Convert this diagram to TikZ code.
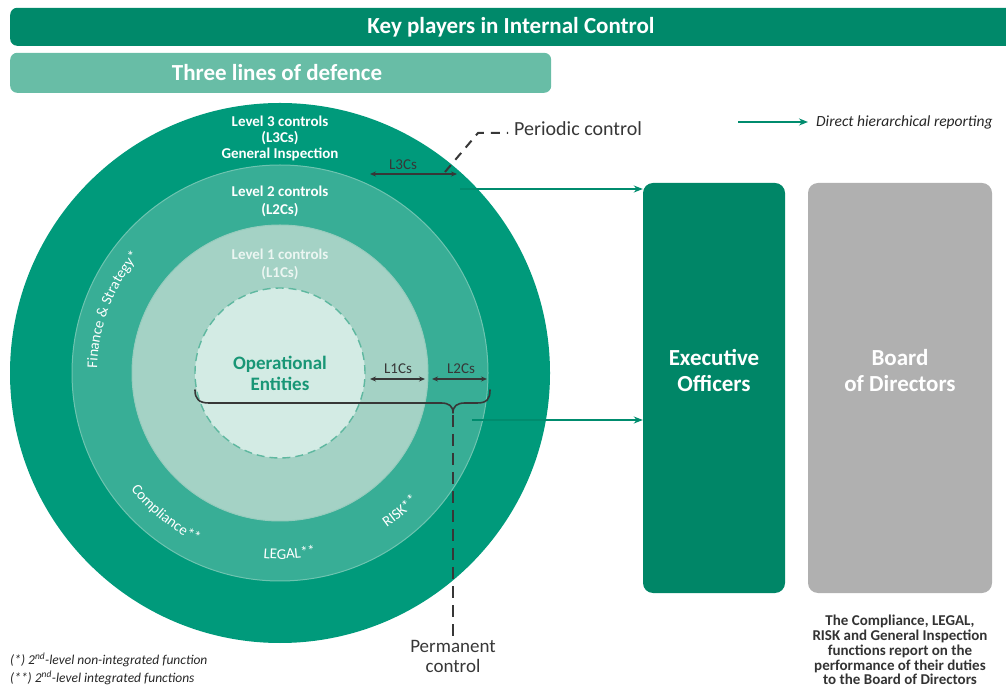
\documentclass[tikz,border=0pt]{standalone}
\usepackage{fontspec}
\setmainfont{Carlito}
\usetikzlibrary{arrows.meta,decorations.text}
\definecolor{hdr}{RGB}{0,137,106}
\definecolor{subhdr}{RGB}{104,189,166}
\definecolor{ringA}{RGB}{0,154,123}
\definecolor{ringB}{RGB}{56,174,150}
\definecolor{ringBline}{RGB}{110,196,176}
\definecolor{ringC}{RGB}{164,210,197}
\definecolor{ringCline}{RGB}{150,204,189}
\definecolor{ringD}{RGB}{211,235,228}
\definecolor{dashc}{RGB}{95,184,160}
\definecolor{optext}{RGB}{24,150,118}
\definecolor{lvlone}{RGB}{236,246,242}
\definecolor{execc}{RGB}{0,134,103}
\definecolor{boardc}{RGB}{176,176,176}
\definecolor{ink}{RGB}{55,55,55}
\definecolor{garr}{RGB}{0,140,110}
\begin{document}
\begin{tikzpicture}[x=1pt,y=1pt,
  barbox/.style={rounded corners=7pt, inner sep=0pt, anchor=south west},
  bartext/.style={text=white, font=\fontsize{23}{23}\selectfont\bfseries},
  ringnode/.style={circle, inner sep=0pt},
  lvltxt/.style={text=white, align=center, inner sep=0pt},
  optxt/.style={text=optext, align=center, inner sep=0pt, font=\fontsize{19}{21}\selectfont\bfseries},
  dimlbl/.style={text=ink, inner sep=0pt, font=\fontsize{15}{15}\selectfont},
  dimarrow/.style={draw=ink, line width=1.2pt, {Stealth[length=6pt,width=5pt]}-{Stealth[length=6pt,width=5pt]}},
  garrow/.style={draw=garr, line width=1.8pt, -{Stealth[length=9pt,width=7pt]}},
  dashline/.style={draw=ink, line width=2pt, dash pattern=on 9pt off 7pt},
  vdash/.style={draw=ink, line width=2.8pt, dash pattern=on 12pt off 7pt},
  bigbox/.style={rounded corners=10pt, inner sep=0pt},
  boxtxt/.style={text=white, align=center, inner sep=0pt, font=\fontsize{23}{26}\selectfont\bfseries},
  inktxt/.style={text=ink, align=center, inner sep=0pt},
  curved/.style={decorate, decoration={text along path, text align=center, text color=white, text={#1}}}
]
\useasboundingbox (0,0) rectangle (1006,688);

% header bars
\node[barbox, fill=hdr, minimum width=1010pt, minimum height=38pt] (titlebar) at (10,642) {};
\node[bartext] (titletext) at (511,661) {Key players in Internal Control};
\node[barbox, fill=subhdr, minimum width=541pt, minimum height=40pt] (subbar) at (10,595) {};
\node[bartext] (subtext) at (277,615) {Three lines of defence};

% circles
\coordinate (C) at (280,315);
\node[ringnode, fill=ringA, minimum size=540pt] (L3) at (C) {};
\node[ringnode, fill=ringB, draw=ringBline, line width=1pt, minimum size=416pt] (L2) at (C) {};
\node[ringnode, fill=ringC, draw=ringCline, line width=1pt, minimum size=296pt] (L1) at (C) {};
\node[ringnode, fill=ringD, draw=dashc, line width=1.4pt, dash pattern=on 8pt off 5pt, minimum size=170pt] (OE) at (C) {};

% level texts
\node[lvltxt, font=\fontsize{15}{16}\selectfont\bfseries] (t3) at (280,550) {Level 3 controls\\(L3Cs)\\General Inspection};
\node[lvltxt, font=\fontsize{15}{18}\selectfont\bfseries] (t2) at (280,487) {Level 2 controls\\(L2Cs)};
\node[lvltxt, text=lvlone, font=\fontsize{15}{18}\selectfont\bfseries] (t1) at (280,424) {Level 1 controls\\(L1Cs)};
\node[optxt] (op) at (280,315) {Operational\\Entities};

% curved labels in the level 2 ring
\begin{scope}[shift={(280,315)}]
\path[curved={|\fontsize{15}{15}\selectfont|Finance {\&} Strategy*}] (189.4:183pt) arc[start angle=189.4, end angle=129.4, radius=183pt];
\path[curved={|\fontsize{15}{15}\selectfont|Compliance**}] (211:189pt) arc[start angle=211, end angle=251, radius=189pt];
\path[curved={|\fontsize{15}{15}\selectfont|LEGAL**}] (253:186pt) arc[start angle=253, end angle=293, radius=186pt];
\path[curved={|\fontsize{15}{15}\selectfont|RISK**}] (291:188pt) arc[start angle=291, end angle=331, radius=188pt];
\end{scope}

% dimension arrows
\coordinate (a3l) at (370,514); \coordinate (a3r) at (457,514);
\draw[dimarrow] (a3l) -- (a3r);
\node[dimlbl] (l3lbl) at (403,523) {L3Cs};
\coordinate (a1l) at (370,309); \coordinate (a1r) at (425,309);
\draw[dimarrow] (a1l) -- (a1r);
\node[dimlbl] (l1lbl) at (398,319) {L1Cs};
\coordinate (a2l) at (432,309); \coordinate (a2r) at (487,309);
\draw[dimarrow] (a2l) -- (a2r);
\node[dimlbl] (l2lbl) at (461,319) {L2Cs};

% periodic control
\coordinate (p0) at (445,516); \coordinate (p1) at (478,555); \coordinate (p2) at (508,555);
\draw[dashline] (p0) -- (p1) -- (p2);
\node[inktxt, anchor=west, font=\fontsize{20}{20}\selectfont] (pc) at (514,559) {Periodic control};

% brace and permanent control
\coordinate (bl) at (195,298); \coordinate (btip) at (453,275); \coordinate (br) at (490,298);
\draw[ink, line width=1.6pt, line cap=round, line join=round]
  (bl) .. controls (195,289) and (199,285) .. (209,285) -- (441,285)
  .. controls (449,285) and (453,282) .. (btip)
  .. controls (453,282) and (457,285) .. (465,285) -- (477,285)
  .. controls (487,285) and (490,289) .. (br);
\node[inktxt, font=\fontsize{19}{20}\selectfont] (perm) at (453,32) {Permanent\\control};
\draw[vdash] (btip) ++(0,-2) coordinate (vtop) (vtop) -- (perm.north);

% boxes
\node[bigbox, fill=execc, minimum width=142pt, minimum height=410pt] (exec) at (714,300) {};
\node[boxtxt] (exectext) at (714,317) {Executive\\Officers};
\node[bigbox, fill=boardc, minimum width=184pt, minimum height=410pt] (board) at (900,300) {};
\node[boxtxt] (boardtext) at (900,317) {Board\\of Directors};

% green reporting arrows
\coordinate (g1) at (460,499);
\draw[garrow] (g1) -- (g1 -| exec.west);
\coordinate (g2) at (472,268);
\draw[garrow] (g2) -- (g2 -| exec.west);

% legend
\coordinate (lg1) at (738,566); \coordinate (lg2) at (808,566);
\draw[garrow] (lg1) -- (lg2);
\node[inktxt, anchor=west, text=black!85, font=\fontsize{15.5}{15.5}\selectfont\itshape] (lgt) at (816,566) {Direct hierarchical reporting};

% notes
\node[inktxt, text=black!80, font=\fontsize{15}{14.8}\selectfont\bfseries] (note) at (900,38) {The Compliance, LEGAL,\\RISK and General Inspection\\functions report on the\\performance of their duties\\to the Board of Directors};
\node[inktxt, anchor=west, text=black!85, font=\fontsize{13.5}{13.5}\selectfont\itshape] (f1) at (10,28) {(*) 2\textsuperscript{nd}-level non-integrated function};
\node[inktxt, anchor=west, text=black!85, font=\fontsize{13.5}{13.5}\selectfont\itshape] (f2) at (10,10) {(**) 2\textsuperscript{nd}-level integrated functions};
\end{tikzpicture}
\end{document}
